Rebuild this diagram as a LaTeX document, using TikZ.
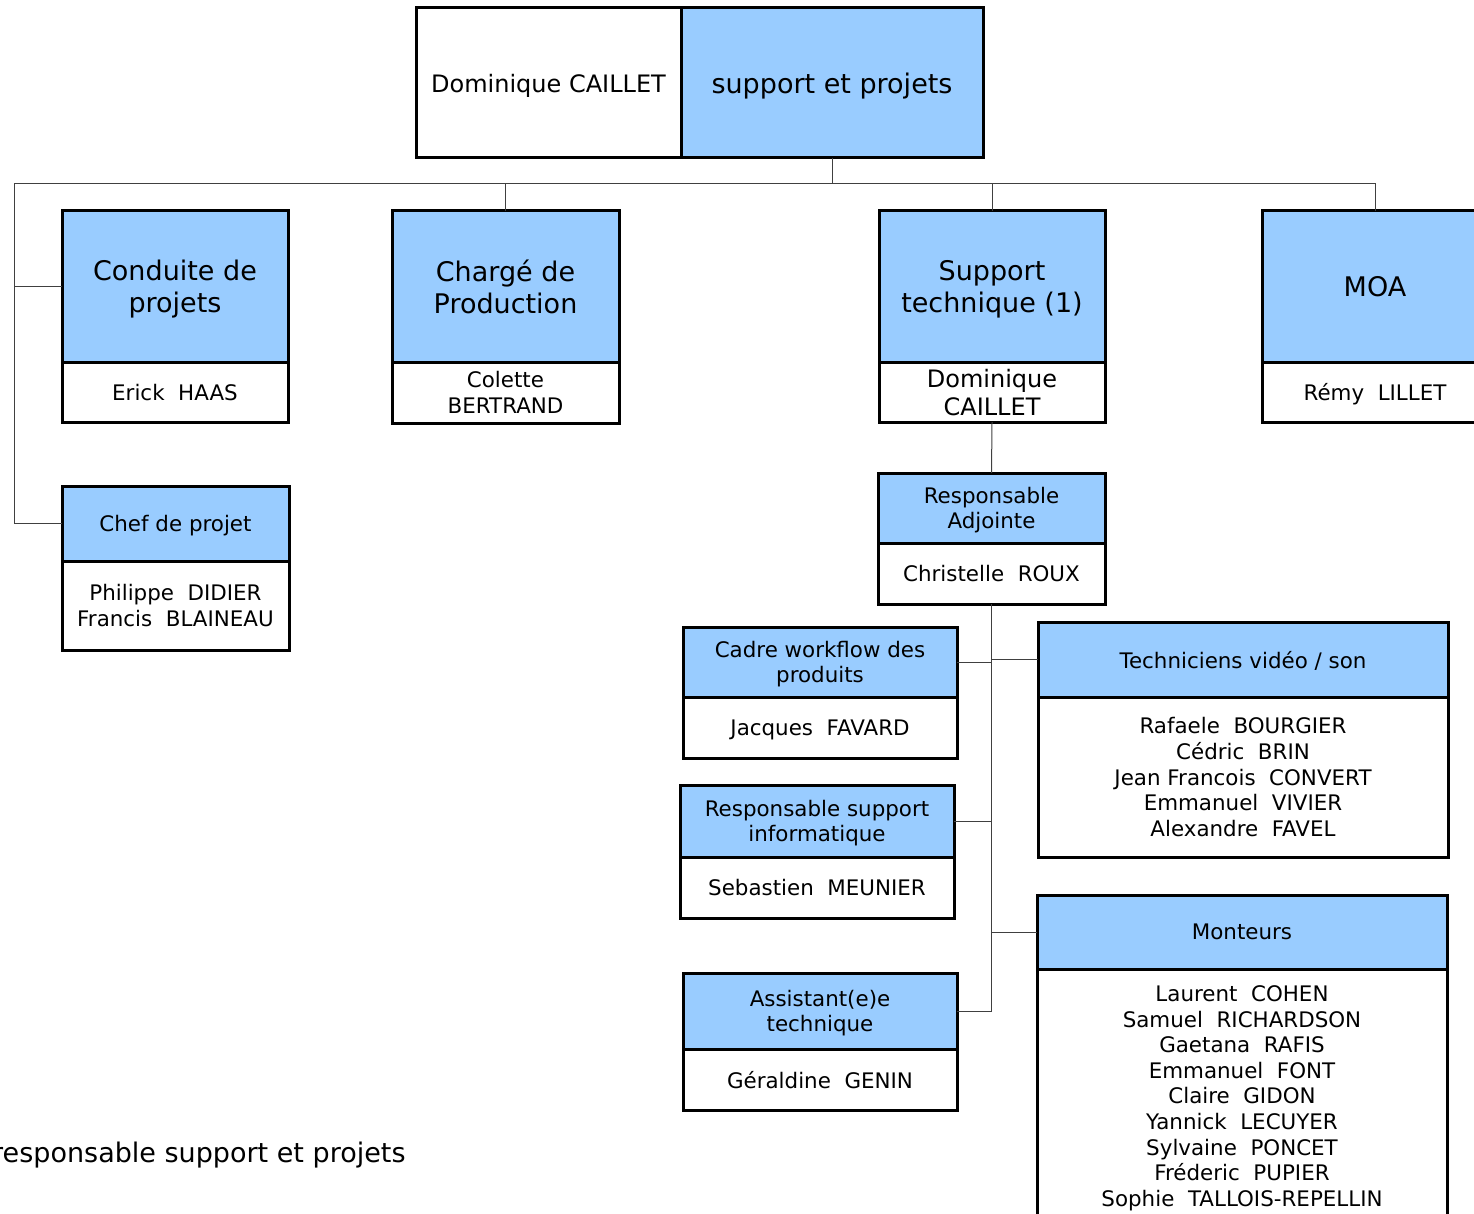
\documentclass[tikz,border=0pt]{standalone}
\usepackage{fontspec}
\setmainfont{DejaVu Sans}
\usepackage{xcolor}
\usepackage{tikz}
\usetikzlibrary{positioning}
\definecolor{bleuclair}{RGB}{153,204,255}
\definecolor{trait}{RGB}{64,64,64}
\newcommand\grand{\fontsize{27}{32}\selectfont}
\newcommand\moyen{\fontsize{24}{28}\selectfont}
\newcommand\petit{\fontsize{21.4}{25.6}\selectfont}
\tikzset{
  bloc/.style={draw,line width=3pt,inner sep=0pt,outer sep=0pt,align=center,text depth=0pt,font=\petit},
  poste/.style={bloc,fill=bleuclair},
  titulaire/.style={bloc,fill=white},
  lien/.style={draw=trait,line width=1pt}
}

\begin{document}
\begin{tikzpicture}[x=1pt,y=-1pt]
\useasboundingbox (0,0) rectangle (1474,1214);
\node[titulaire,font=\moyen,minimum width=265pt,minimum height=150pt,anchor=north west] (direction) at (416,8) {Dominique CAILLET};
\node[poste,font=\grand,minimum width=302pt,minimum height=150pt,right=0pt of direction] (service) {support et projets};

\node[poste,font=\grand,minimum width=226pt,minimum height=151pt,anchor=north west] (conduite) at (62,211) {Conduite de\\projets};
\node[titulaire,minimum width=226pt,minimum height=60pt,below=0pt of conduite] (conduiteN) {Erick\ \ HAAS};
\node[poste,font=\grand,minimum width=227pt,minimum height=151pt,anchor=north west] (charge) at (392,211) {Chargé de\\Production};
\node[titulaire,minimum width=227pt,minimum height=61pt,below=0pt of charge] (chargeN) {Colette\\BERTRAND};
\node[poste,font=\grand,minimum width=226pt,minimum height=151pt,anchor=north west] (support) at (879,211) {Support\\technique (1)};
\node[titulaire,font=\moyen,minimum width=226pt,minimum height=60pt,below=0pt of support] (supportN) {Dominique\\CAILLET};
\node[poste,font=\grand,minimum width=226pt,minimum height=151pt,anchor=north west] (moa) at (1262,211) {MOA};
\node[titulaire,minimum width=226pt,minimum height=60pt,below=0pt of moa] (moaN) {Rémy\ \ LILLET};

\node[poste,minimum width=227pt,minimum height=75pt,anchor=north west] (chef) at (62,486) {Chef de projet};
\node[titulaire,minimum width=227pt,minimum height=89pt,below=0pt of chef] (chefN) {Philippe\ \ DIDIER\\Francis\ \ BLAINEAU};

\node[poste,minimum width=227pt,minimum height=70pt,anchor=north west] (adjoint) at (878,473) {Responsable\\Adjointe};
\node[titulaire,minimum width=227pt,minimum height=61pt,below=0pt of adjoint] (adjointN) {Christelle\ \ ROUX};

\node[poste,minimum width=274pt,minimum height=70pt,anchor=north west] (cadre) at (683,627) {Cadre workflow des\\produits};
\node[titulaire,minimum width=274pt,minimum height=61pt,below=0pt of cadre] (cadreN) {Jacques\ \ FAVARD};
\node[poste,minimum width=274pt,minimum height=72pt,anchor=north west] (info) at (680,785) {Responsable support\\informatique};
\node[titulaire,minimum width=274pt,minimum height=61pt,below=0pt of info] (infoN) {Sebastien\ \ MEUNIER};
\node[poste,minimum width=274pt,minimum height=76pt,anchor=north west] (assistant) at (683,973) {Assistant(e)e\\technique};
\node[titulaire,minimum width=274pt,minimum height=61pt,below=0pt of assistant] (assistantN) {Géraldine\ \ GENIN};

\node[poste,minimum width=410pt,minimum height=75pt,anchor=north west] (techniciens) at (1038,622) {Techniciens vidéo / son};
\node[titulaire,minimum width=410pt,minimum height=160pt,below=0pt of techniciens] (techniciensN) {Rafaele\ \ BOURGIER\\Cédric\ \ BRIN\\Jean Francois\ \ CONVERT\\Emmanuel\ \ VIVIER\\Alexandre\ \ FAVEL};
\node[poste,minimum width=410pt,minimum height=74pt,anchor=north west] (monteurs) at (1037,895) {Monteurs};
\node[titulaire,minimum width=410pt,minimum height=254pt,below=0pt of monteurs] (monteursN) {Laurent\ \ COHEN\\Samuel\ \ RICHARDSON\\Gaetana\ \ RAFIS\\Emmanuel\ \ FONT\\Claire\ \ GIDON\\Yannick\ \ LECUYER\\Sylvaine\ \ PONCET\\Fréderic\ \ PUPIER\\Sophie\ \ TALLOIS-REPELLIN};

\node[font=\grand,inner sep=0pt,text depth=0pt,anchor=west] (legende) at (-8,1152) {responsable support et projets};

\coordinate[below=26pt of service.south] (bus);
\coordinate (busG) at (14,184);
\draw[lien] (service.south) -- (bus) -- (busG) |- (conduite.west);
\draw[lien] (busG) |- (chef.west);
\draw[lien] (bus) -| (charge.north);
\draw[lien] (bus) -| (support.north);
\draw[lien] (bus) -| (moa.north);
\draw[lien] (supportN.south) -- (adjoint.north);
\draw[lien] (adjointN.south) |- (assistant.east);
\draw[lien] (cadre.east) -- (cadre.east -| adjointN.south);
\draw[lien] (info.east) -- (info.east -| adjointN.south);
\draw[lien] (techniciens.west) -- (techniciens.west -| adjointN.south);
\draw[lien] (monteurs.west) -- (monteurs.west -| adjointN.south);
\end{tikzpicture}
\end{document}
